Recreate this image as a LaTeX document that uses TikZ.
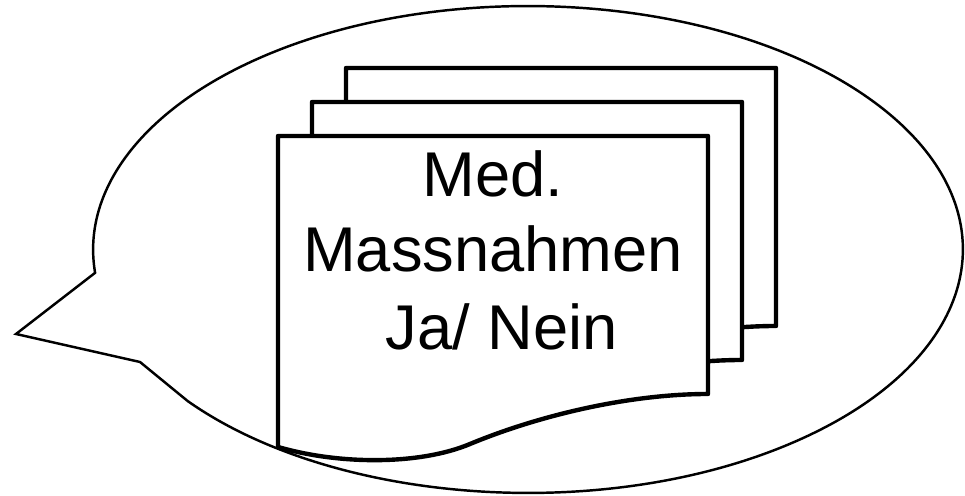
\documentclass[tikz,border=0pt]{standalone}
\usepackage{fontspec}
\setmainfont{Liberation Sans}
\begin{document}
\begin{tikzpicture}[x=0.02cm,y=0.02cm,
  bubble/.style={draw=black,line width=1.4pt,line join=miter},
  docline/.style={draw=black,fill=white,line width=2.5pt,line join=round},
  label/.style={anchor=base,inner sep=0pt,font=\fontsize{36}{43}\selectfont},
  docpage/.pic={\draw[docline] (278,360) -- (708,360) -- (708,102)
      .. controls (630,102) and (540,81) .. (470,52)
      .. controls (420,31) and (340,31) .. (278,49) -- cycle;}]
\useasboundingbox (0,0) rectangle (965,496);
% speech bubble
\coordinate (c) at (528,246.5);
\coordinate (tip) at (16,162);
\coordinate (tb) at (140,134);
\draw[bubble] (c) ++(218.5:8.7cm and 4.87cm)
  arc[start angle=218.5,end angle=545.5,x radius=8.7cm,y radius=4.87cm]
  -- (tip) -- (tb) -- cycle;
% stacked documents
\pic (back) at (68,68) {docpage};
\pic (middle) at (34,34) {docpage};
\pic (front) at (0,0) {docpage};
% text
\node[label] (t1) at (493,299) {Med.};
\node[label] (t2) at (493,224) {Massnahmen};
\node[label] (t3) at (493,146) {\hspace*{0.278em}Ja/ Nein};
\end{tikzpicture}
\end{document}
